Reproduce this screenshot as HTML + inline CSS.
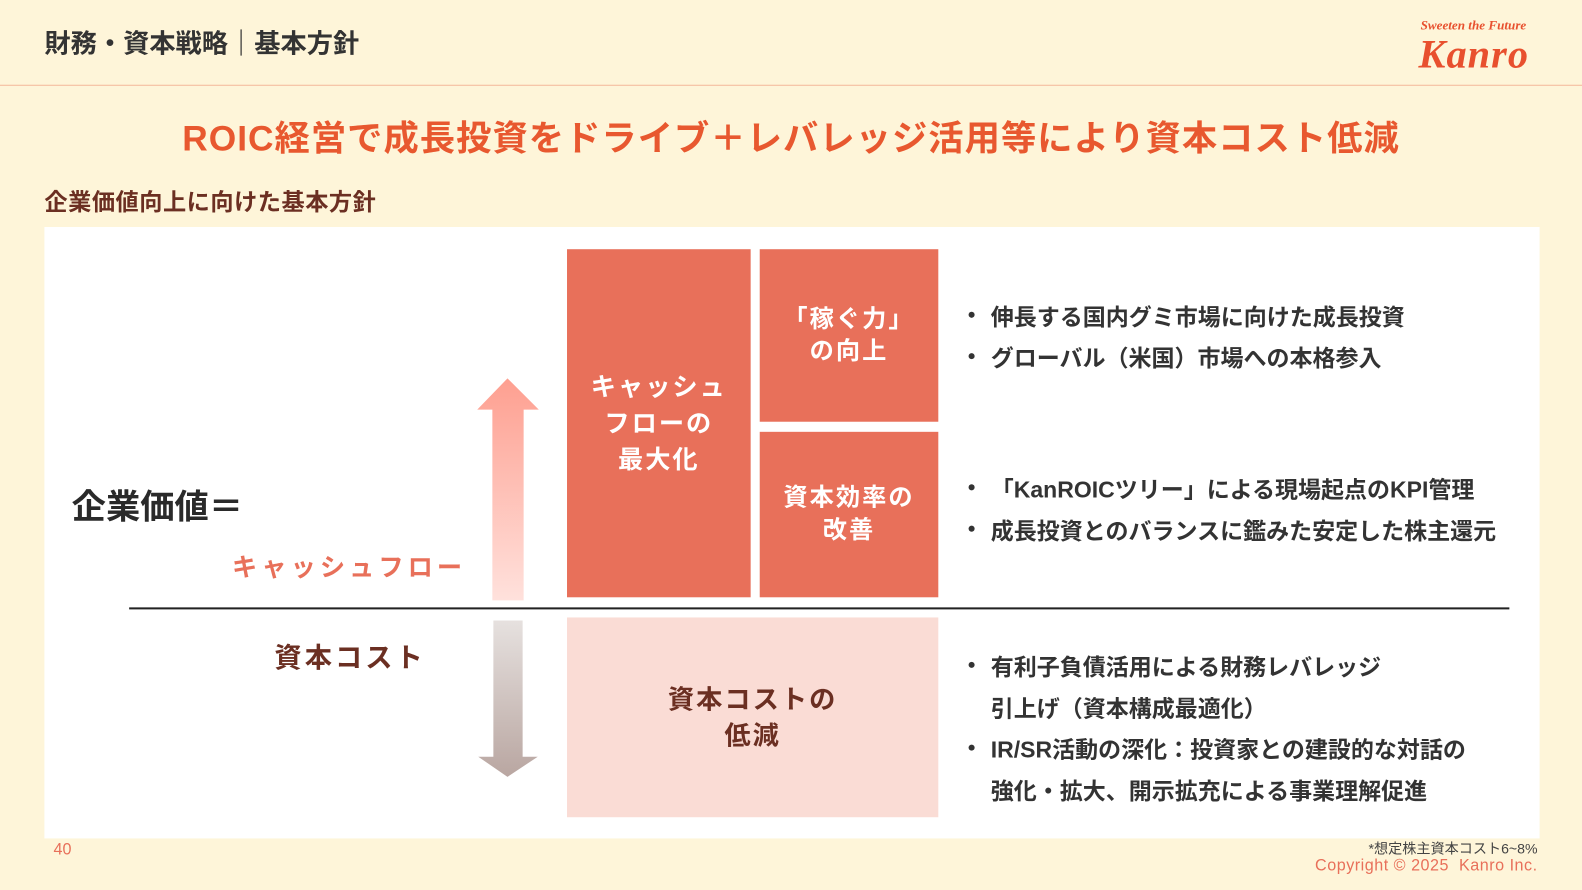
<!DOCTYPE html>
<html><head><meta charset="utf-8"><style>
*{margin:0;padding:0;box-sizing:border-box}
body{width:1582px;height:890px;background:#FEF5D9;position:relative;overflow:hidden;font-family:"Liberation Sans","Noto Sans CJK JP",sans-serif}
#w{position:absolute;left:0;top:0;width:1568px;height:882px;transform:scale(1.00893);transform-origin:0 0}
.a{position:absolute;white-space:nowrap}
.box{position:absolute;background:#E8705A;color:#fff;font-weight:bold;font-size:25px;display:flex;align-items:center;justify-content:center;text-align:center;line-height:36px;letter-spacing:2px}
.li{position:absolute;font-size:22.8px;font-weight:bold;color:#333;white-space:nowrap}
.li:before{content:"";position:absolute;left:-22px;top:13px;width:6px;height:6px;border-radius:3px;background:#333}
.t{position:absolute;font-size:22.8px;font-weight:bold;color:#333;white-space:nowrap}
</style></head><body><div id="w">
<div class="a" style="left:44px;top:23px;font-size:26px;font-weight:bold;color:#333">財務・資本戦略｜基本方針</div>
<div class="a" style="left:1408px;top:17px;font-size:13px;font-weight:bold;font-style:italic;color:#E8502E;font-family:'Liberation Serif',serif">Sweeten the Future</div>
<div class="a" style="left:1406px;top:30px;font-size:40px;font-weight:bold;font-style:italic;color:#E8502E;font-family:'Liberation Serif',serif;letter-spacing:1px">Kanro</div>
<div class="a" style="left:0;top:84px;width:1582px;height:1px;background:#F3B89A"></div>
<div class="a" style="left:0;top:109px;width:1568px;text-align:center;font-size:35px;font-weight:bold;color:#E8582F;letter-spacing:1px">ROIC経営で成長投資をドライブ＋レバレッジ活用等により資本コスト低減</div>
<div class="a" style="left:44px;top:181px;font-size:23px;font-weight:bold;color:#6B2F22;letter-spacing:0.5px">企業価値向上に向けた基本方針</div>
<div class="a" style="left:44px;top:225px;width:1482px;height:606px;background:#fff"></div>
<div class="a" style="left:71px;top:475px;font-size:34px;font-weight:bold;color:#2a2a2a">企業価値＝</div>
<div class="a" style="left:230px;top:543px;font-size:25px;font-weight:bold;color:#E8705A;letter-spacing:4px">キャッシュフロー</div>
<div class="a" style="left:272px;top:630px;font-size:27px;font-weight:bold;color:#6B2F22;letter-spacing:3px">資本コスト</div>
<div class="a" style="left:128px;top:602px;width:1368px;height:2px;background:#222"></div>
<svg class="a" style="left:466px;top:368px" width="75" height="410">
<defs><linearGradient id="g1" x1="0" y1="0" x2="0" y2="1"><stop offset="0" stop-color="#FE9F90"/><stop offset="1" stop-color="#FFE1DC"/></linearGradient>
<linearGradient id="g2" x1="0" y1="0" x2="0" y2="1"><stop offset="0" stop-color="#E6E1DF"/><stop offset="1" stop-color="#B9A6A1"/></linearGradient></defs>
<polygon points="7,38 37,7 68,38 53,38 53,227 22,227 22,38" fill="url(#g1)"/>
<polygon points="23,247 52,247 52,382 67,382 37,402 8,382 23,382" fill="url(#g2)"/>
</svg>
<div class="box" style="left:562px;top:247px;width:182px;height:345px">キャッシュ<br>フローの<br>最大化</div>
<div class="box" style="left:753px;top:247px;width:177px;height:171px;font-size:24px;line-height:32px">「稼ぐ力」<br>の向上</div>
<div class="box" style="left:753px;top:428px;width:177px;height:164px;font-size:24px;line-height:32px">資本効率の<br>改善</div>
<div class="box" style="left:562px;top:612px;width:368px;height:198px;background:#FADCD5;color:#6B2F22;font-size:26px">資本コストの<br>低減</div>
<div class="li" style="left:982px;top:296px">伸長する国内グミ市場に向けた成長投資</div>
<div class="li" style="left:982px;top:337px">グローバル（米国）市場への本格参入</div>
<div class="li" style="left:982px;top:467px">「KanROICツリー」による現場起点のKPI管理</div>
<div class="li" style="left:982px;top:508px">成長投資とのバランスに鑑みた安定した株主還元</div>
<div class="li" style="left:982px;top:643px">有利子負債活用による財務レバレッジ</div>
<div class="t" style="left:982px;top:684px">引上げ（資本構成最適化）</div>
<div class="li" style="left:982px;top:725px">IR/SR活動の深化：投資家との建設的な対話の</div>
<div class="t" style="left:982px;top:766px">強化・拡大、開示拡充による事業理解促進</div>
<div class="a" style="left:53px;top:834px;font-size:16px;color:#E8705A">40</div>
<div class="a" style="right:44px;top:831px;font-size:14px;color:#444">*想定株主資本コスト6~8%</div>
<div class="a" style="right:44px;top:850px;font-size:16px;color:#E8705A;letter-spacing:0.5px">Copyright © 2025&nbsp; Kanro Inc.</div>
</div></body></html>
